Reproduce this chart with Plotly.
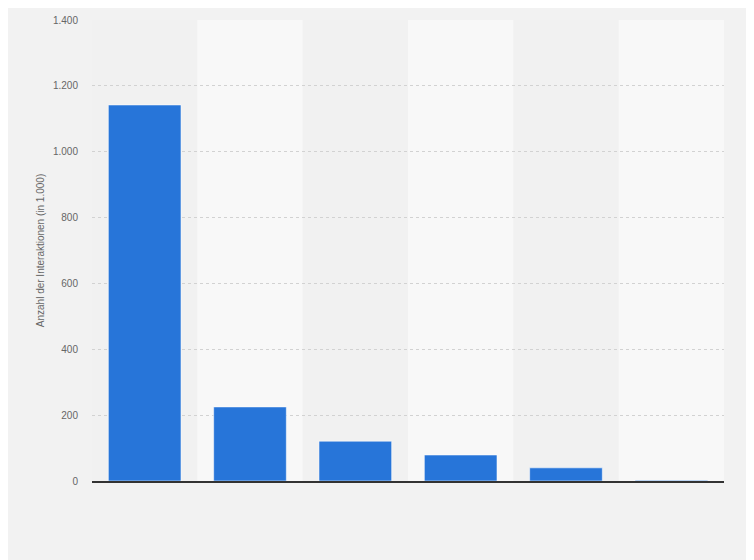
import plotly.graph_objects as go

# ------------------------------------------------------------------ #
#                               Data                                 #
# ------------------------------------------------------------------ #
categories = ["A", "B", "C", "D", "E", "F"]  # no labels shown in the chart
values = [1142, 225, 121, 79, 40, 2]
y_ticks = [0, 200, 400, 600, 800, 1000, 1200, 1400]

fig = go.Figure()

fig.add_trace(go.Bar(
    x=categories,
    y=values,
    marker=dict(color="#2775d9", line=dict(color="rgba(255,255,255,0.55)", width=1)),
    width=0.69,
    hoverinfo="y",
))

# alternating lighter column bands
shapes = []
for i in range(len(categories)):
    if i % 2 == 1:
        shapes.append(dict(
            type="rect", xref="x", yref="paper",
            x0=i - 0.5, x1=i + 0.5, y0=0, y1=1,
            fillcolor="#f8f8f8", line=dict(width=0), layer="below",
        ))

# page body adds an 8px offset, margins compensate for it
fig.update_layout(
    width=754, height=560,
    margin=dict(l=84, r=38, t=12, b=87),
    paper_bgcolor="#f2f2f2",
    plot_bgcolor="#f1f1f1",
    separators=",.",
    font=dict(family="Liberation Sans, Arial, sans-serif", color="#666666", size=11),
    showlegend=False,
    shapes=shapes,
    bargap=0.31,
)

fig.update_xaxes(
    showticklabels=False,
    showgrid=False,
    showline=True, linecolor="#333333", linewidth=1.5,
    ticks="",
    range=[-0.5, len(categories) - 0.5],
    automargin=False,
)

fig.update_yaxes(
    range=[0, 1400],
    tickvals=y_ticks,
    tickformat=",d",
    showgrid=True, gridcolor="#d2d2d2", griddash="dot", gridwidth=1,
    zeroline=False,
    ticks="outside", ticklen=11, tickcolor="rgba(0,0,0,0)",
    tickfont=dict(size=10, color="#666666"),
    title=dict(text="Anzahl der Interaktionen (in 1.000)", font=dict(size=10, color="#666666"), standoff=6),
    automargin=False,
)

fig.write_html("out.html")
